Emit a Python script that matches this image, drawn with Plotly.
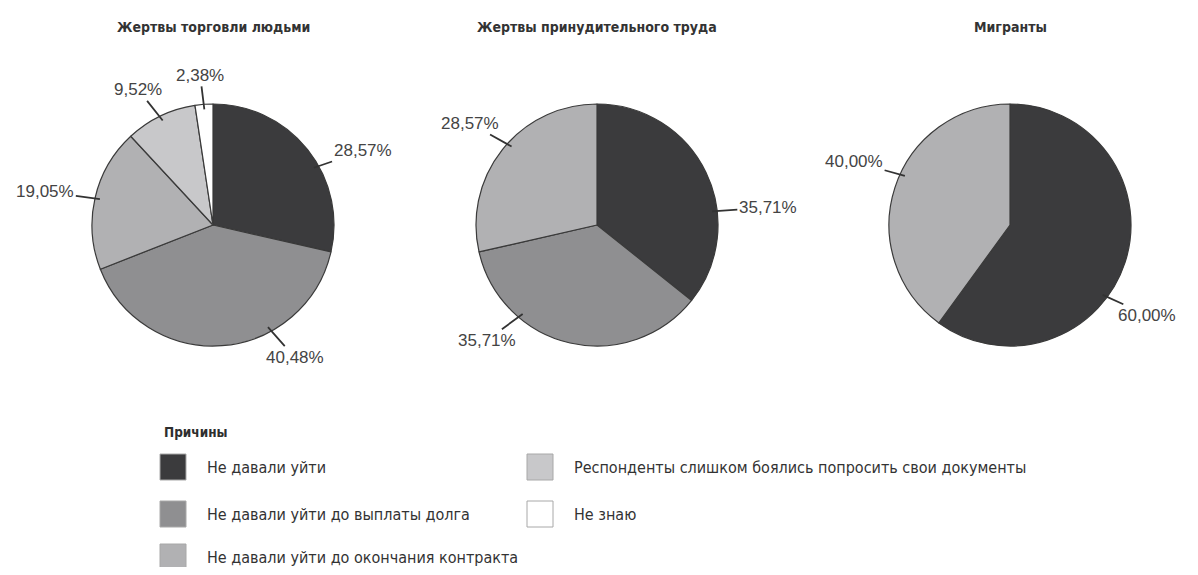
import math
import plotly.graph_objects as go

# категории (причины) и цвета
reasons = [
    "Не давали уйти",
    "Не давали уйти до выплаты долга",
    "Не давали уйти до окончания контракта",
    "Респонденты слишком боялись попросить свои документы",
    "Не знаю",
]
reason_colors = ["#3b3b3d", "#8f8f91", "#b1b1b3", "#c8c8ca", "#ffffff"]

titles = ["Жертвы торговли людьми", "Жертвы принудительного труда", "Мигранты"]

trafficking_labels = [reasons[0], reasons[1], reasons[2], reasons[3], reasons[4]]
trafficking_values = [28.57, 40.48, 19.05, 9.52, 2.38]

forced_labels = [reasons[0], reasons[1], reasons[2]]
forced_values = [35.71, 35.71, 28.57]

migrant_labels = [reasons[0], reasons[2]]
migrant_values = [60.00, 40.00]

# страница добавляет отступ 8px вокруг графика
PAD = 8
W, H = 1198 - 2 * PAD, 575 - 2 * PAD
centers_px = [213, 597, 1010]
cy_px = 225
R = 121

# небольшой поворот выносок (в градусах), как в оригинале
label_nudge = [[9, -24, 0, 0, 0], [19, 27, 4], [19, 7]]

NARROW = "DejaVu Sans Condensed, Liberation Sans Narrow, Arial Narrow, sans-serif"
SANS = "Liberation Sans, Arial, sans-serif"


def px(x):
    return (x - PAD) / W


def py(y):
    return 1 - (y - PAD) / H


fig = go.Figure()
annotations = []

series = [
    (trafficking_labels, trafficking_values),
    (forced_labels, forced_values),
    (migrant_labels, migrant_values),
]

for i, (labels, values) in enumerate(series):
    cx = centers_px[i]
    colors = [reason_colors[reasons.index(l)] for l in labels]
    fig.add_trace(go.Pie(
        labels=labels, values=values, sort=False, direction="clockwise",
        rotation=0, textinfo="none",
        domain=dict(x=[px(cx - R), px(cx + R)], y=[py(cy_px + R), py(cy_px - R)]),
        marker=dict(colors=colors, line=dict(color="#3a3a3a", width=1.2)),
        showlegend=False, hoverinfo="label+percent",
    ))
    annotations.append(dict(
        x=px(cx), y=py(27), xref="paper", yref="paper", text=f"<b>{titles[i]}</b>",
        xanchor="center", yanchor="middle", showarrow=False,
        font=dict(family=NARROW, size=14, color="#333333"),
    ))
    # подписи с выносками
    total = sum(values)
    acc = 0
    for j, v in enumerate(values):
        mid = (acc + v / 2) / total * 360 + label_nudge[i][j]
        acc += v
        s, c = math.sin(math.radians(mid)), math.cos(math.radians(mid))
        tip_x, tip_y = cx + (R - 5) * s, cy_px - (R - 5) * c
        # центр текста: конец выноски + сдвиг на полразмера подписи
        tx = cx + (R + 18) * s + s * 33
        ty = cy_px - (R + 18) * c - c * 11
        annotations.append(dict(
            x=px(tip_x), y=py(tip_y), xref="paper", yref="paper",
            ax=tx - tip_x, ay=ty - tip_y, axref="pixel", ayref="pixel",
            text=f"{v:.2f}%".replace(".", ","), showarrow=True,
            arrowhead=0, arrowwidth=1.8, arrowcolor="#333333", standoff=0,
            font=dict(family=SANS, size=17, color="#444444"),
        ))

# легенда
annotations.append(dict(
    x=px(162), y=py(432), xref="paper", yref="paper", text="<b>Причины</b>",
    showarrow=False, xanchor="left", yanchor="middle",
    font=dict(family=NARROW, size=13.5, color="#2e2e2e"),
))
legend_pos = [(160, 467), (160, 514), (160, 557), (527, 467), (527, 514)]
shapes = []
for (lx, ly), name, col in zip(legend_pos, reasons, reason_colors):
    shapes.append(dict(
        type="rect", xref="paper", yref="paper",
        x0=px(lx), x1=px(lx + 26), y0=py(ly + 13), y1=py(ly - 13),
        fillcolor=col, line=dict(color="#a8a8a8", width=1),
    ))
    annotations.append(dict(
        x=px(lx + 45), y=py(ly), xref="paper", yref="paper", text=name,
        showarrow=False, xanchor="left", yanchor="middle",
        font=dict(family=NARROW, size=16, color="#333333"),
    ))

fig.update_layout(
    width=W, height=H, margin=dict(l=0, r=0, t=0, b=0),
    paper_bgcolor="white", plot_bgcolor="white",
    annotations=annotations, shapes=shapes,
)

fig.write_html("out.html")
